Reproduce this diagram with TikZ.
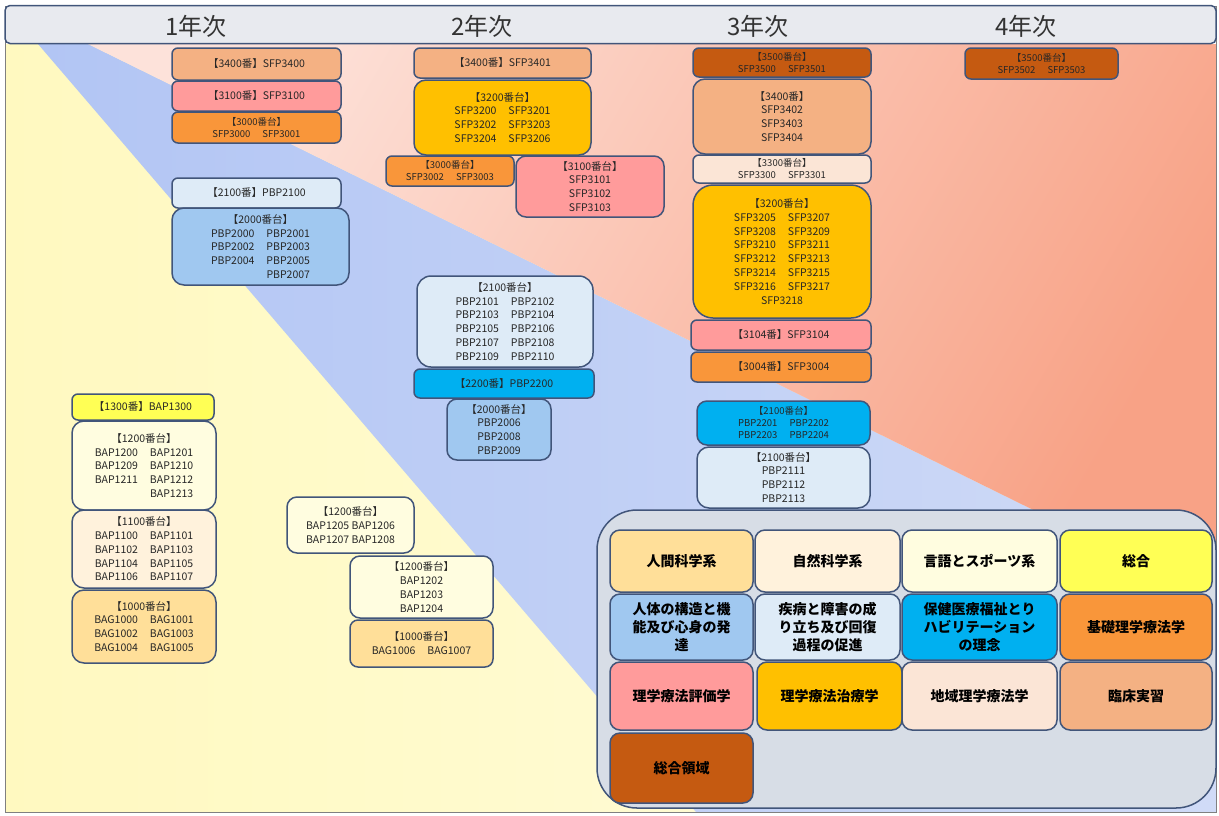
\documentclass[tikz,border=0pt]{standalone}
\usepackage{fontspec}
\setmainfont{Noto Sans CJK JP}
\definecolor{bline}{HTML}{41557A}
\definecolor{txt}{HTML}{262626}
\definecolor{bgyel}{HTML}{FFF9C0}
\definecolor{bgyelb}{HTML}{FFFCE0}
\definecolor{bgblue}{HTML}{B2C5F4}
\definecolor{bgblueb}{HTML}{D0DBF7}
\definecolor{bgpink}{HTML}{FDE2DA}
\definecolor{bgpinkb}{HTML}{F8A286}
\definecolor{legbg}{HTML}{D7DDE6}
\definecolor{headbg}{HTML}{E8EAEF}
\definecolor{cA}{HTML}{C55A11}% 3500
\definecolor{cB}{HTML}{F4B183}% 3400
\definecolor{cC}{HTML}{FBE5D6}% 3300
\definecolor{cD}{HTML}{FFC000}% 3200
\definecolor{cE}{HTML}{FF9B9B}% 3100
\definecolor{cF}{HTML}{F9963A}% 3000
\definecolor{cG}{HTML}{00B0F0}% 2200
\definecolor{cH}{HTML}{DEEBF7}% 2100
\definecolor{cI}{HTML}{A0C8F0}% 2000
\definecolor{cJ}{HTML}{FFFF55}% 1300
\definecolor{cK}{HTML}{FFFDE0}% 1200
\definecolor{cL}{HTML}{FFF2DC}% 1100
\definecolor{cM}{HTML}{FFDF99}% 1000
\newcommand{\cgap}{\hspace{12pt}}
\begin{document}
\begin{tikzpicture}[
  x=1pt, y=-1pt,
  cbox/.style={draw=bline, line width=1.5pt, rounded corners=6pt, align=center,
    inner sep=0pt, text=txt, font=\fontsize{10.5}{13.8}\selectfont},
  tight/.style={font=\fontsize{9.5}{12}\selectfont},
  lbox/.style={draw=bline, line width=1.5pt, rounded corners=10pt, align=center,
    inner sep=0pt, text=black, font=\fontsize{14}{18}\selectfont\bfseries},
  year/.style={text=black!80, font=\fontsize{24}{24}\selectfont}
]
\useasboundingbox (0,0) rectangle (1219,815);
% background bands
\shade[left color=bgyel, right color=bgyelb] (5,44) rectangle (1216,812);
\shade[left color=bgblue, right color=bgblueb] (38,44) -- (88,44) -- (1216,600) -- (1216,812) -- (696,812) -- cycle;
\shade[left color=bgpink, right color=bgpinkb, shading angle=60] (88,44) -- (1216,44) -- (1216,600) -- cycle;
\draw[gray, line width=1pt] (5,6) rectangle (1216,812);
% header
\node[draw=bline, line width=1.5pt, rounded corners=5pt, fill=headbg, inner sep=0pt,
  minimum width=1211pt, minimum height=38pt] (head) at (610.5,24.5) {};
\node[year] (y1) at (196,26) {1年次};
\node[year] (y2) at (482,26) {2年次};
\node[year] (y3) at (758,26) {3年次};
\node[year] (y4) at (1026,26) {4年次};

% 1st year
\node[cbox, fill=cB, minimum width=169pt, minimum height=32pt] (s3400a) at (256.5,64) {【3400番】SFP3400};
\node[cbox, fill=cE, minimum width=169pt, minimum height=30pt] (s3100a) at (256.5,96) {【3100番】SFP3100};
\node[cbox, tight, fill=cF, minimum width=169pt, minimum height=31pt] (s3000a) at (256.5,127.5) {【3000番台】\\SFP3000\cgap SFP3001};
\node[cbox, fill=cH, minimum width=169pt, minimum height=30pt] (p2100a) at (256.5,193) {【2100番】PBP2100};
\node[cbox, fill=cI, rounded corners=12pt, minimum width=177pt, minimum height=77pt] (p2000a) at (260.5,246.5)
  {【2000番台】\\PBP2000\cgap PBP2001\\PBP2002\cgap PBP2003\\PBP2004\cgap PBP2005\\\phantom{PBP2004}\cgap PBP2007};
\node[cbox, fill=cJ, minimum width=142pt, minimum height=26pt] (b1300) at (143,407) {【1300番】BAP1300};
\node[cbox, fill=cK, rounded corners=12pt, minimum width=144pt, minimum height=89pt] (b1200a) at (144,465.5)
  {【1200番台】\\BAP1200\cgap BAP1201\\BAP1209\cgap BAP1210\\BAP1211\cgap BAP1212\\\phantom{BAP1211}\cgap BAP1213};
\node[cbox, fill=cL, rounded corners=12pt, minimum width=144pt, minimum height=78pt] (b1100a) at (144,549)
  {【1100番台】\\BAP1100\cgap BAP1101\\BAP1102\cgap BAP1103\\BAP1104\cgap BAP1105\\BAP1106\cgap BAP1107};
\node[cbox, fill=cM, rounded corners=12pt, minimum width=144pt, minimum height=73pt] (b1000a) at (144,626.5)
  {【1000番台】\\BAG1000\cgap BAG1001\\BAG1002\cgap BAG1003\\BAG1004\cgap BAG1005};
\node[cbox, fill=cK, rounded corners=10pt, minimum width=127pt, minimum height=56pt] (b1200b) at (350.5,525)
  {【1200番台】\\BAP1205 BAP1206\\BAP1207 BAP1208};
\node[cbox, fill=cK, rounded corners=10pt, minimum width=143pt, minimum height=62pt] (b1200c) at (421.5,587)
  {【1200番台】\\BAP1202\\BAP1203\\BAP1204};
\node[cbox, fill=cM, rounded corners=8pt, minimum width=143pt, minimum height=47pt] (b1000b) at (421.5,643.5)
  {【1000番台】\\BAG1006\cgap BAG1007};

% 2nd year
\node[cbox, fill=cB, minimum width=177pt, minimum height=30pt] (s3400b) at (502.5,63) {【3400番】SFP3401};
\node[cbox, fill=cD, rounded corners=12pt, minimum width=177pt, minimum height=75pt] (s3200a) at (502.5,117.5)
  {【3200番台】\\SFP3200\cgap SFP3201\\SFP3202\cgap SFP3203\\SFP3204\cgap SFP3206};
\node[cbox, tight, fill=cF, minimum width=128pt, minimum height=30pt] (s3000b) at (450,171) {【3000番台】\\SFP3002\cgap SFP3003};
\node[cbox, fill=cE, rounded corners=10pt, minimum width=148pt, minimum height=61pt] (s3100b) at (590,186.5)
  {【3100番台】\\SFP3101\\SFP3102\\SFP3103};
\node[cbox, fill=cH, rounded corners=14pt, minimum width=176pt, minimum height=91pt] (p2100b) at (505,321.5)
  {【2100番台】\\PBP2101\cgap PBP2102\\PBP2103\cgap PBP2104\\PBP2105\cgap PBP2106\\PBP2107\cgap PBP2108\\PBP2109\cgap PBP2110};
\node[cbox, fill=cG, minimum width=180pt, minimum height=29pt] (p2200a) at (504,383.5) {【2200番】PBP2200};
\node[cbox, fill=cI, rounded corners=10pt, minimum width=104pt, minimum height=61pt] (p2000b) at (499,429.5)
  {【2000番台】\\PBP2006\\PBP2008\\PBP2009};

% 3rd year
\node[cbox, tight, fill=cA, minimum width=178pt, minimum height=29pt] (s3500a) at (782,62.5) {【3500番台】\\SFP3500\cgap SFP3501};
\node[cbox, fill=cB, rounded corners=12pt, minimum width=178pt, minimum height=75pt] (s3400c) at (782,116.5)
  {【3400番】\\SFP3402\\SFP3403\\SFP3404};
\node[cbox, tight, fill=cC, minimum width=178pt, minimum height=28pt] (s3300a) at (782,169) {【3300番台】\\SFP3300\cgap SFP3301};
\node[cbox, fill=cD, rounded corners=20pt, minimum width=178pt, minimum height=133pt] (s3200b) at (782,251.5)
  {【3200番台】\\SFP3205\cgap SFP3207\\SFP3208\cgap SFP3209\\SFP3210\cgap SFP3211\\SFP3212\cgap SFP3213\\SFP3214\cgap SFP3215\\SFP3216\cgap SFP3217\\SFP3218};
\node[cbox, fill=cE, minimum width=180pt, minimum height=30pt] (s3104) at (781,335) {【3104番】SFP3104};
\node[cbox, fill=cF, minimum width=180pt, minimum height=30pt] (s3004) at (781,367) {【3004番】SFP3004};
\node[cbox, tight, fill=cG, rounded corners=10pt, minimum width=173pt, minimum height=44pt] (p2200b) at (783.5,423)
  {【2100番台】\\PBP2201\cgap PBP2202\\PBP2203\cgap PBP2204};
\node[cbox, fill=cH, rounded corners=12pt, minimum width=173pt, minimum height=61pt] (p2100c) at (783.5,477.5)
  {【2100番台】\\PBP2111\\PBP2112\\PBP2113};

% 4th year
\node[cbox, tight, fill=cA, minimum width=153pt, minimum height=31pt] (s3500b) at (1041.5,63.5) {【3500番台】\\SFP3502\cgap SFP3503};

% legend
\node[draw=bline, line width=1.5pt, rounded corners=40pt, fill=legbg, inner sep=0pt,
  minimum width=619pt, minimum height=298pt] (legend) at (906.5,659) {};
\node[lbox, fill=cM, minimum width=143pt, minimum height=62pt] (l1000) at (681.5,561) {人間科学系};
\node[lbox, fill=cL, minimum width=145pt, minimum height=62pt] (l1100) at (827.5,561) {自然科学系};
\node[lbox, fill=cK, minimum width=155pt, minimum height=62pt] (l1200) at (979.5,561) {言語とスポーツ系};
\node[lbox, fill=cJ, minimum width=152pt, minimum height=62pt] (l1300) at (1136,561) {総合};
\node[lbox, fill=cI, minimum width=143pt, minimum height=66pt] (l2000) at (681.5,627) {人体の構造と機\\能及び心身の発\\達};
\node[lbox, fill=cH, minimum width=145pt, minimum height=66pt] (l2100) at (827.5,627) {疾病と障害の成\\り立ち及び回復\\過程の促進};
\node[lbox, fill=cG, minimum width=155pt, minimum height=66pt] (l2200) at (979.5,627) {保健医療福祉とり\\ハビリテーション\\の理念};
\node[lbox, fill=cF, minimum width=152pt, minimum height=66pt] (l3000) at (1136,627) {基礎理学療法学};
\node[lbox, fill=cE, minimum width=143pt, minimum height=68pt] (l3100) at (681.5,696) {理学療法評価学};
\node[lbox, fill=cD, minimum width=145pt, minimum height=68pt] (l3200) at (829.5,696) {理学療法治療学};
\node[lbox, fill=cC, minimum width=155pt, minimum height=68pt] (l3300) at (979.5,696) {地域理学療法学};
\node[lbox, fill=cB, minimum width=152pt, minimum height=68pt] (l3400) at (1136,696) {臨床実習};
\node[lbox, fill=cA, minimum width=143pt, minimum height=70pt] (l3500) at (681.5,768) {総合領域};
\end{tikzpicture}
\end{document}
